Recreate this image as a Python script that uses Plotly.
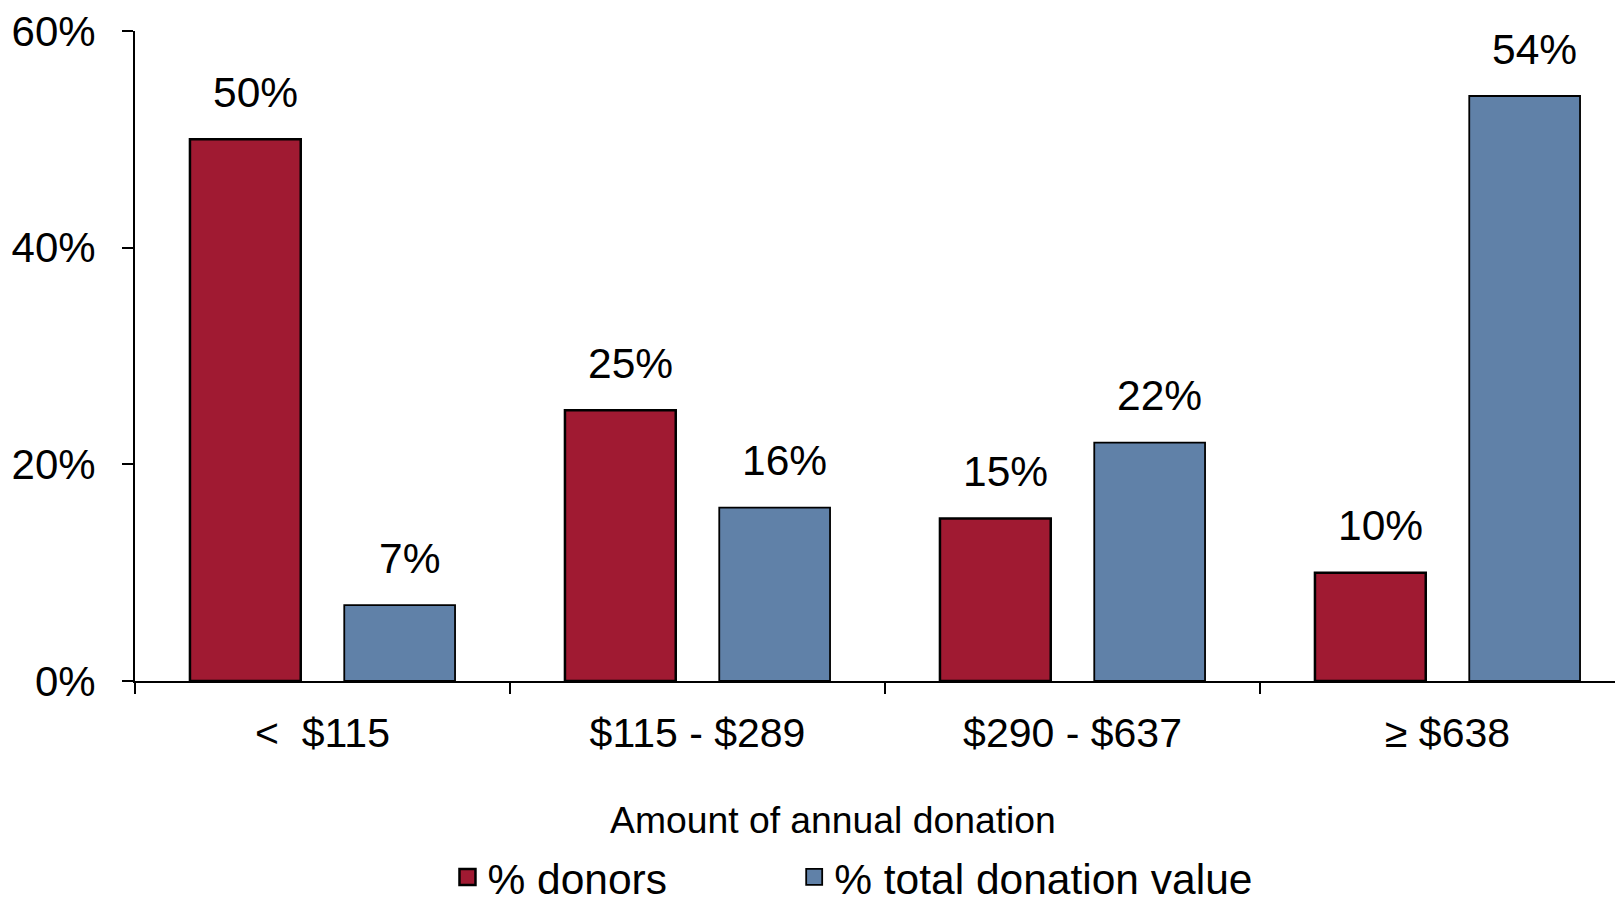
import plotly.graph_objects as go

categories = ["<\u00a0\u00a0$115", "$115 - $289", "$290 - $637", "\u2265 $638"]
donors = [50, 25, 15, 10]
value_share = [7, 16, 22, 54]
series_names = ["% donors", "% total donation value"]
y_ticks = [0, 20, 40, 60]

RED = "#A01A32"
BLUE = "#6081A8"
FONT = "Liberation Sans, Arial, sans-serif"

fig = go.Figure()
fig.add_trace(go.Bar(x=list(range(4)), y=donors, name=series_names[0], showlegend=False,
                     marker=dict(color=RED, line=dict(color="black", width=2.5))))
fig.add_trace(go.Bar(x=list(range(4)), y=value_share, name=series_names[1], showlegend=False,
                     marker=dict(color=BLUE, line=dict(color="black", width=1.8))))
# legend keys (larger square swatches than plotly's bar swatch)
for name, col, leg, lw in ((series_names[0], RED, "legend", 2.5), (series_names[1], BLUE, "legend2", 1.8)):
    fig.add_trace(go.Scatter(x=[None], y=[None], mode="markers", name=name, legend=leg,
                             marker=dict(symbol="square", size=16, color=col,
                                         line=dict(color="black", width=lw))))

off = 0.2044
for i in range(4):
    for vals, sgn in ((donors, -1), (value_share, 1)):
        fig.add_annotation(x=i + sgn * off, y=vals[i], xref="x", yref="y",
                           text=f"{vals[i]}%", showarrow=False, yanchor="middle",
                           yshift=47, xshift=10,
                           font=dict(size=42.5, color="black", family=FONT))

fig.add_annotation(x=0.469, y=-0.214, xref="paper", yref="paper",
                   text="Amount of annual donation", showarrow=False,
                   yanchor="middle", font=dict(size=37.3, color="black", family=FONT))

leg_common = dict(orientation="h", xanchor="left", y=-0.249, yanchor="top",
                  font=dict(size=42.5, family=FONT, color="black"), bgcolor="rgba(0,0,0,0)")
fig.update_layout(
    width=1615, height=889,
    margin=dict(l=127, r=0, t=23, b=216, pad=0, autoexpand=False),
    plot_bgcolor="white", paper_bgcolor="white",
    barmode="group", bargap=0.177, bargroupgap=0.282,
    font=dict(family=FONT, size=40, color="black"),
    showlegend=True,
    legend=dict(x=0.210, **leg_common),
    legend2=dict(x=0.443, **leg_common),
)
fig.update_xaxes(type="linear", range=[-0.5, 3.468], tickmode="array",
                 tickvals=list(range(4)), ticktext=categories,
                 tickfont=dict(size=41),
                 showline=True, linecolor="black", linewidth=2, showgrid=False,
                 ticks="", zeroline=False, ticklabelstandoff=15,
                 minor=dict(tickmode="array", tickvals=[-0.5, 0.5, 1.5, 2.5, 3.5],
                            ticks="outside", ticklen=11, tickwidth=2, tickcolor="black"))
fig.update_yaxes(range=[0, 60], tickmode="array", tickvals=y_ticks,
                 ticktext=[f"{v}%" for v in y_ticks], tickfont=dict(size=42),
                 ticklabeloverflow="allow",
                 showline=True, linecolor="black", linewidth=2, showgrid=False,
                 ticks="outside", ticklen=11, tickwidth=2, tickcolor="black",
                 zeroline=False, ticklabelstandoff=18)

fig.write_html("out.html")
